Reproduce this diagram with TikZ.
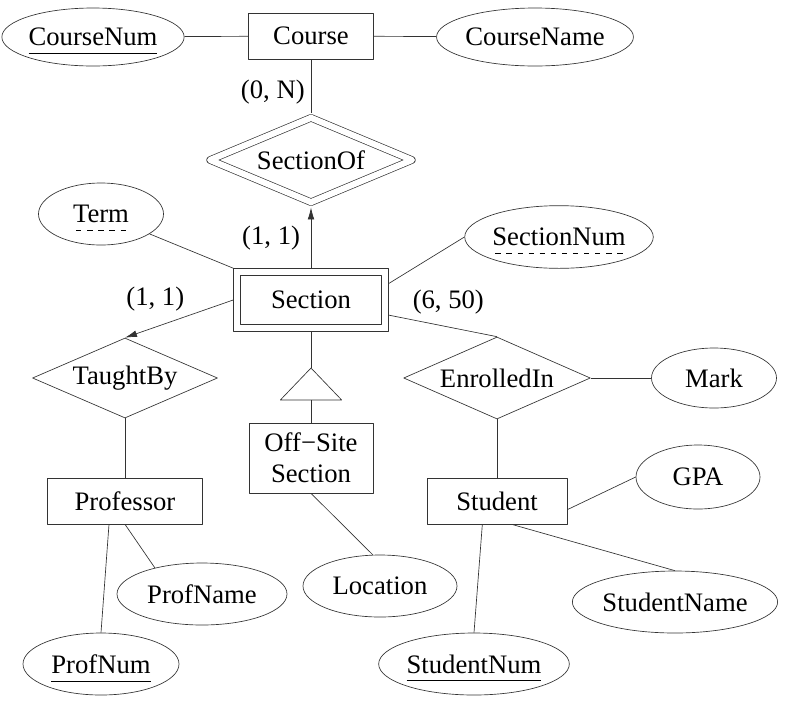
\documentclass[tikz,border=0pt]{standalone}
\usepackage{fontspec}
\setmainfont{Liberation Serif}
\newcommand{\fullkey}[1]{\setbox0\hbox{#1}\rlap{\smash{\rule[-5.9pt]{\wd0}{.4pt}}}#1}
\newcommand{\dashkey}[1]{\setbox0\hbox{#1}\rlap{\smash{\raisebox{-5.9pt}{\hbox to \wd0{\xleaders\hbox{\kern.1em\rule{.2em}{.4pt}\kern.1em}\hfill}}}}#1}
\usetikzlibrary{shapes.geometric,arrows.meta}

\tikzset{
  entity/.style={draw=black!80, rectangle, inner sep=0pt},
  attr/.style={draw=black!80, ellipse, inner sep=0pt},
  rel/.style={draw=black!80, diamond, aspect=2.3, inner sep=0pt},
  weakrel/.style={rel, double, double distance=4.6pt, outer sep=2.8pt},
  card/.style={inner sep=0pt},
  conn/.style={draw=black!80},
}

\begin{document}
\begin{tikzpicture}[x=.75pt, y=-.75pt, font=\fontsize{20}{23}\selectfont, line width=.5pt, line join=round, >={Latex[length=9pt,width=5pt]}]
\useasboundingbox (0,0) rectangle (788,704);

% entities and relationships
\node[entity, minimum width=93.75pt, minimum height=34.5pt] (course) at (311,36) {Course};
\node[weakrel, minimum width=153.75pt, minimum height=65.6pt] (secof) at (311,160) {SectionOf};
\node[entity, minimum width=116.25pt, minimum height=47.25pt] (sec) at (311,300) {Section};
\draw[conn] ([shift={(5.6pt,-5.6pt)}]sec.north west) rectangle ([shift={(-5.6pt,5.6pt)}]sec.south east);
\node[rel, minimum width=138.75pt, minimum height=60pt] (taught) at (125,378) {TaughtBy};
\node[rel, minimum width=140pt, minimum height=61.5pt] (enr) at (497,378) {EnrolledIn};
\node[entity, minimum width=116pt, minimum height=34.5pt] (prof) at (125,501) {Professor};
\node[entity, minimum width=93pt, minimum height=52.5pt, align=center] (off) at (311,458) {Off−Site\\Section};
\node[entity, minimum width=105pt, minimum height=34.5pt] (stu) at (497,501) {Student};

% attributes
\node[attr, minimum width=127.5pt, minimum height=43.5pt] (cnum) at (93,37) {\fullkey{CourseNum}};
\node[attr, minimum width=142.5pt, minimum height=43.5pt] (cname) at (535,37) {CourseName};
\node[attr, minimum width=93.75pt, minimum height=46.5pt] (term) at (101,214) {\dashkey{Term}};
\node[attr, minimum width=140pt, minimum height=47pt] (snum) at (559,237) {\dashkey{SectionNum}};
\node[attr, minimum width=93.75pt, minimum height=45pt] (mark) at (714,378) {Mark};
\node[attr, minimum width=93pt, minimum height=48pt] (gpa) at (698,477) {GPA};
\node[attr, minimum width=115.5pt, minimum height=46.5pt] (loc) at (380,586) {Location};
\node[attr, minimum width=127.5pt, minimum height=46.5pt] (pname) at (202,594) {ProfName};
\node[attr, minimum width=117pt, minimum height=46.5pt] (pnum) at (101,664) {\fullkey{ProfNum}};
\node[attr, minimum width=152pt, minimum height=46.5pt] (sname) at (675,602) {StudentName};
\node[attr, minimum width=139.5pt, minimum height=46.5pt] (stnum) at (474,664) {\fullkey{StudentNum}};

% isa triangle
\coordinate (isatop) at (311,368);
\coordinate (isabot) at (311,400);
\draw[conn] (isatop) -- ([xshift=-23pt]isabot) -- ([xshift=23pt]isabot) -- cycle;

% connectors
\draw[conn] (cnum) -- (course);
\draw[conn] (course) -- (cname);
\draw[conn] (course) -- (secof) node[card, pos=.62, left=4.5pt] {(0, N)};
\draw[conn, ->] (sec) -- (secof) node[card, pos=.5, left=8pt] {(1, 1)};
\draw[conn, ->] (sec.west) -- (taught.north) node[card, pos=.72, above=12pt] {(1, 1)};
\draw[conn] (sec.-11) -- (enr.north) node[card, pos=.55, above=9pt] {(6, 50)};
\draw[conn] (term) -- (sec.north west);
\draw[conn] (sec.12) -- (snum.west);
\draw[conn] (sec) -- (isatop);
\draw[conn] (isabot) -- (off);
\draw[conn] (off.south) -- (loc.103);
\draw[conn] (taught.south) -- (prof.north);
\draw[conn] ([xshift=-12pt]prof.south) -- (pnum.north);
\draw[conn] (prof.south) -- (pname.151);
\draw[conn] (enr.east) -- (mark.west);
\draw[conn] (enr.south) -- (stu.north);
\draw[conn] (stu.-7) -- (gpa.west);
\draw[conn] ([xshift=11pt]stu.south) -- (sname.north);
\draw[conn] ([xshift=-11pt]stu.south) -- (stnum.north);
\end{tikzpicture}
\end{document}
